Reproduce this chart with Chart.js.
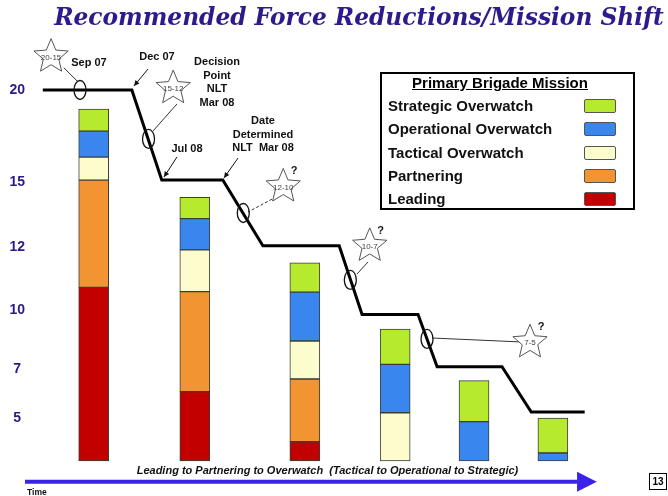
<!DOCTYPE html>
<html>
<head>
<meta charset="utf-8">
<script src="https://cdn.jsdelivr.net/npm/chart.js@4.4.1/dist/chart.umd.min.js"></script>
<style>
    html, body { margin: 0; padding: 0; background: #fff; }
    #wrap { position: relative; width: 668px; height: 496px; overflow: hidden; font-family: "Liberation Sans", Arial, sans-serif; }
    #chart { position: absolute; left: 0; top: 0; }
    #title { position: absolute; left: 40px; width: 638px; top: 2px; line-height: 30px; margin: 0; text-align: center; white-space: nowrap;
             font-family: "DejaVu Serif", "Liberation Serif", serif; font-style: italic; font-weight: bold; font-size: 23.3px; color: #2e1a8c; }
    #legend-box { position: absolute; left: 380px; top: 72px; width: 255px; height: 138px; box-sizing: border-box; border: 2px solid #000; }
    .lg-title { position: absolute; left: 380px; width: 240px; top: 74px; line-height: 18px; text-align: center; font-weight: bold; font-size: 15px; text-decoration: underline; }
    .lg-name { position: absolute; left: 388px; line-height: 18px; font-weight: bold; font-size: 15px; color: #111; white-space: nowrap; }
    .lg-swatch { position: absolute; left: 584px; width: 32px; height: 14px; box-sizing: border-box; border: 1px solid #555; border-radius: 2px; }
    #caption { position: absolute; left: 100px; width: 455px; top: 463px; line-height: 14px; text-align: center; white-space: pre;
               font-weight: bold; font-style: italic; font-size: 11px; color: #111; }
    #time { position: absolute; left: 27px; top: 487px; line-height: 10px; font-weight: bold; font-size: 8.5px; color: #111; }
    #page { position: absolute; left: 649px; top: 473px; width: 18px; height: 17px; box-sizing: border-box; border: 1px solid #000;
            font-weight: bold; font-size: 10px; line-height: 15px; text-align: center; }
</style>
</head>
<body>
<div id="wrap">
    <canvas id="chart" width="668" height="496"></canvas>
    <h1 id="title">Recommended Force Reductions/Mission Shift</h1>
    <div id="legend-box"></div>
    <div class="lg-title">Primary Brigade Mission</div>
    <div id="legend"></div>
    <div id="caption">Leading to Partnering to Overwatch  (Tactical to Operational to Strategic)</div>
    <div id="time">Time</div>
    <div id="page">13</div>
</div>
<script>
// Balken-Positionen auf der Zeitachse (0..100)
const barX = [9.7, 25.6, 42.9, 57.1, 69.5, 81.9];

// Segmente je Mission, von unten nach oben gestapelt
const seriesNames = ['Leading', 'Partnering', 'Tactical Overwatch', 'Operational Overwatch', 'Strategic Overwatch'];
const seriesColors = ['#c20000', '#f39433', '#fdfccc', '#3a86ef', '#b6ea2c'];
const leading = [9.36, 3.74, 1.04, null, null, null];
const partnering = [5.78, 5.39, 3.38, null, null, null];
const tactical = [1.24, 2.25, 2.05, 2.60, null, null];
const operational = [1.40, 1.69, 2.63, 2.61, 2.12, 0.43];
const strategic = [1.19, 1.15, 1.58, 1.90, 2.21, 1.89];
const seriesValues = [leading, partnering, tactical, operational, strategic];

// Treppenlinie (Brigaden-Niveau)
const stepX = [1.7, 15.7, 20.4, 30.0, 36.3, 48.3, 51.9, 60.7, 63.7, 73.9, 78.5, 86.9];
const stepY = [20, 20, 15.15, 15.15, 11.6, 11.6, 7.9, 7.9, 5.08, 5.08, 2.64, 2.64];

// Achsenbeschriftung (nicht linear auf der Folie)
const tickValues = [20, 15.04, 11.54, 8.14, 4.96, 2.32];
const tickLabels = ['20', '15', '12', '10', '7', '5'];

// Annotationen
const stars = [
    {x: 3.0, y: 21.8, text: '20-15', q: false},
    {x: 22.2, y: 20.1, text: '15-12', q: false},
    {x: 39.5, y: 14.8, text: '12-10', q: true},
    {x: 53.1, y: 11.6, text: '10-7', q: true},
    {x: 78.3, y: 6.4, text: '7-5', q: true}
];
const rings = [
    {x: 7.55, y: 20.0}, {x: 18.32, y: 17.36}, {x: 33.22, y: 13.37}, {x: 50.05, y: 9.76}, {x: 62.11, y: 6.58}
];
const connectors = [
    {x1: 5.0, y1: 21.2, x2: 7.08, y2: 20.49, dash: false},
    {x1: 22.8, y1: 19.25, x2: 19.03, y2: 17.79, dash: false},
    {x1: 37.74, y1: 14.12, x2: 33.96, y2: 13.42, dash: true},
    {x1: 52.83, y1: 10.73, x2: 51.1, y2: 10.08, dash: false},
    {x1: 62.89, y1: 6.63, x2: 76.73, y2: 6.42, dash: false}
];
const pointers = [
    {x1: 18.24, y1: 21.13, x2: 16.04, y2: 20.22},
    {x1: 22.8, y1: 16.39, x2: 20.75, y2: 15.31},
    {x1: 32.39, y1: 16.33, x2: 30.19, y2: 15.26}
];
const notes = [
    {x: 8.96, y: 21.46, lines: ['Sep 07']},
    {x: 19.65, y: 21.78, lines: ['Dec 07']},
    {x: 29.09, y: 21.51, lines: ['Decision', 'Point', 'NLT', 'Mar 08']},
    {x: 24.37, y: 16.82, lines: ['Jul 08']},
    {x: 36.32, y: 18.33, lines: ['Date', 'Determined', 'NLT  Mar 08']}
];
const timeArrow = {x1: -1.1, x2: 85.7, tip: 88.8, y: -1.12};


function drawStar(ctx, cx, cy, r) {
    ctx.beginPath();
    for (let k = 0; k < 10; k++) {
        const rad = k % 2 === 0 ? r : r * 0.45;
        const a = -Math.PI / 2 + k * Math.PI / 5;
        const px = cx + rad * Math.cos(a);
        const py = cy + rad * Math.sin(a);
        if (k === 0) ctx.moveTo(px, py); else ctx.lineTo(px, py);
    }
    ctx.closePath();
    ctx.fillStyle = '#fff';
    ctx.fill();
    ctx.strokeStyle = '#555';
    ctx.lineWidth = 1;
    ctx.stroke();
}

function drawArrow(ctx, x1, y1, x2, y2, head) {
    const ang = Math.atan2(y2 - y1, x2 - x1);
    ctx.beginPath();
    ctx.moveTo(x1, y1);
    ctx.lineTo(x2, y2);
    ctx.stroke();
    ctx.beginPath();
    ctx.moveTo(x2, y2);
    ctx.lineTo(x2 - head * Math.cos(ang - 0.45), y2 - head * Math.sin(ang - 0.45));
    ctx.lineTo(x2 - head * Math.cos(ang + 0.45), y2 - head * Math.sin(ang + 0.45));
    ctx.closePath();
    ctx.fill();
}

const slideNotes = {
    id: 'slideNotes',
    afterDatasetsDraw(chart) {
        const {ctx, scales: {x, y}} = chart;
        const X = v => x.getPixelForValue(v);
        const Y = v => y.getPixelForValue(v);
        ctx.save();

        // Verbindungslinien Stern -> Kreis
        ctx.strokeStyle = '#333';
        ctx.lineWidth = 1;
        for (const c of connectors) {
            ctx.setLineDash(c.dash ? [3, 2] : []);
            ctx.beginPath();
            ctx.moveTo(X(c.x1), Y(c.y1));
            ctx.lineTo(X(c.x2), Y(c.y2));
            ctx.stroke();
        }
        ctx.setLineDash([]);

        // Kreise auf der Linie
        ctx.strokeStyle = '#111';
        ctx.lineWidth = 1.3;
        for (const r of rings) {
            ctx.beginPath();
            ctx.ellipse(X(r.x), Y(r.y), 6, 9.5, 0, 0, Math.PI * 2);
            ctx.stroke();
        }

        // Sterne
        for (const s of stars) {
            drawStar(ctx, X(s.x), Y(s.y), 18);
            ctx.fillStyle = '#444';
            ctx.font = '8px "Liberation Sans", Arial, sans-serif';
            ctx.textAlign = 'center';
            ctx.textBaseline = 'middle';
            ctx.fillText(s.text, X(s.x), Y(s.y) + 1);
            if (s.q) {
                ctx.fillStyle = '#111';
                ctx.font = 'bold 11px "Liberation Sans", Arial, sans-serif';
                ctx.fillText('?', X(s.x) + 11, Y(s.y) - 15);
            }
        }

        // Pfeile zu den Daten
        ctx.strokeStyle = '#111';
        ctx.fillStyle = '#111';
        ctx.lineWidth = 1;
        for (const p of pointers) {
            drawArrow(ctx, X(p.x1), Y(p.y1), X(p.x2), Y(p.y2), 6);
        }

        // Beschriftungen
        ctx.fillStyle = '#111';
        ctx.font = 'bold 11px "Liberation Sans", Arial, sans-serif';
        ctx.textAlign = 'center';
        ctx.textBaseline = 'middle';
        for (const n of notes) {
            n.lines.forEach((line, i) => {
                ctx.fillText(line, X(n.x), Y(n.y) + i * 13.5);
            });
        }

        // Zeitpfeil unten
        const ay = Y(timeArrow.y);
        ctx.strokeStyle = '#3b22e8';
        ctx.fillStyle = '#3b22e8';
        ctx.lineWidth = 4;
        ctx.beginPath();
        ctx.moveTo(X(timeArrow.x1), ay);
        ctx.lineTo(X(timeArrow.x2), ay);
        ctx.stroke();
        ctx.beginPath();
        ctx.moveTo(X(timeArrow.x2), ay - 10);
        ctx.lineTo(X(timeArrow.tip), ay);
        ctx.lineTo(X(timeArrow.x2), ay + 10);
        ctx.closePath();
        ctx.fill();

        ctx.restore();
    }
};

function buildLegend() {
    const legend = document.getElementById('legend');
    let html = '';
    for (let i = seriesNames.length - 1, row = 0; i >= 0; i--, row++) {
        const cy = 106 + row * 23.25;
        html += `<div class="lg-name" style="top:${cy - 9}px">${seriesNames[i]}</div>
                 <div class="lg-swatch" style="top:${cy - 7}px;background:${seriesColors[i]}"></div>`;
    }
    legend.innerHTML = html;
}

function drawChart() {
    const datasets = seriesNames.map((name, i) => ({
        type: 'bar',
        label: name,
        data: barX.map((bx, j) => ({x: bx, y: seriesValues[i][j]})),
        backgroundColor: seriesColors[i],
        borderColor: '#3c3c3c',
        borderWidth: 1,
        borderSkipped: false,
        barThickness: 30,
        order: 1
    }));

    datasets.push({
        type: 'line',
        label: 'Brigaden',
        data: stepX.map((sx, i) => ({x: sx, y: stepY[i]})),
        borderColor: '#000',
        borderWidth: 3,
        borderJoinStyle: 'miter',
        pointRadius: 0,
        tension: 0,
        fill: false,
        order: 0
    });

    new Chart(document.getElementById('chart'), {
        type: 'bar',
        data: {datasets: datasets},
        options: {
            responsive: false,
            animation: false,
            layout: {padding: 0},
            plugins: {
                legend: {display: false},
                tooltip: {enabled: false},
                title: {display: false}
            },
            scales: {
                x: {type: 'linear', min: 0, max: 100, display: false, stacked: true, offset: false},
                y: {
                    type: 'linear',
                    min: -1.887,
                    max: 24.852,
                    stacked: true,
                    grid: {display: false, drawTicks: false},
                    border: {display: false},
                    afterFit: (scale) => {
                        scale.width = 32;
                        scale.paddingTop = 0;
                        scale.paddingBottom = 0;
                    },
                    afterBuildTicks: (scale) => {
                        scale.ticks = tickValues.map(v => ({value: v}));
                    },
                    ticks: {
                        autoSkip: false,
                        crossAlign: 'center',
                        padding: 7,
                        color: '#2b1b85',
                        font: {family: '"Liberation Sans", Arial, sans-serif', weight: 'bold', size: 14},
                        callback: (value, index) => tickLabels[index]
                    }
                }
            }
        },
        plugins: [slideNotes]
    });
}

buildLegend();
drawChart();
</script>
</body>
</html>
